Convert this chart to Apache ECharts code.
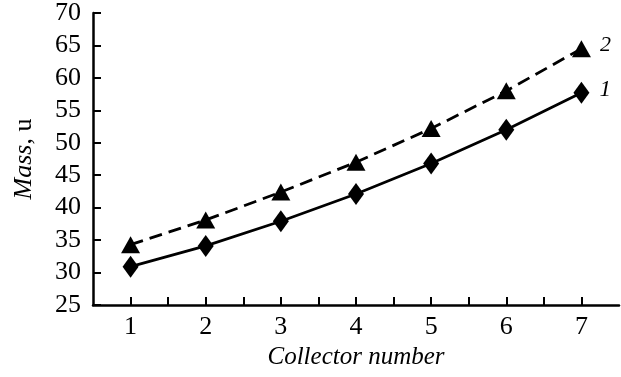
<!DOCTYPE html>
<html>
<head>
<meta charset="utf-8">
<script src="https://cdn.jsdelivr.net/npm/echarts@6/dist/echarts.min.js"></script>
<style>
  html, body { margin: 0; padding: 0; background: #fff; }
  #chart { width: 621px; height: 377px; }
</style>
</head>
<body>
<div id="chart"></div>
<script>
const collectors = [1, 2, 3, 4, 5, 6, 7];
const mass1 = [30.9, 34.1, 37.9, 42.1, 46.8, 52.0, 57.7];
const mass2 = [34.3, 38.1, 42.4, 47.0, 52.2, 58.0, 64.5];
const yTicks = [25, 30, 35, 40, 45, 50, 55, 60, 65, 70];

const FONT = '"Liberation Serif", "DejaVu Serif", serif';

function pairs(ys) {
    return collectors.map((x, i) => [x, ys[i]]);
}

function endLabel(text) {
    return function(p) {
        return p.dataIndex === collectors.length - 1 ? text : '';
    };
}

const chart = echarts.init(document.getElementById('chart'));
chart.setOption({
    animation: false,
    backgroundColor: '#fff',
    grid: { left: 93, right: 2, top: 13, bottom: 72 },
    xAxis: {
        type: 'value',
        min: 0.5,
        max: 7.5,
        interval: 0.5,
        name: 'Collector number',
        nameLocation: 'middle',
        nameGap: 38,
        nameTextStyle: { fontFamily: FONT, fontStyle: 'italic', fontSize: 25, color: '#000' },
        axisLine: { lineStyle: { color: '#000', width: 2.5 } },
        axisTick: { inside: true, length: 8, lineStyle: { color: '#000', width: 2 } },
        axisLabel: {
            fontFamily: FONT, fontSize: 26, color: '#000', margin: 9,
            showMinLabel: false, showMaxLabel: false,
            formatter: v => Number.isInteger(v) ? String(v) : ''
        },
        splitLine: { show: false }
    },
    yAxis: {
        type: 'value',
        min: yTicks[0],
        max: yTicks[yTicks.length - 1],
        interval: 5,
        name: '{i|Mass}, u',
        nameLocation: 'middle',
        nameGap: 56,
        nameTextStyle: {
            fontFamily: FONT, fontSize: 26, color: '#000',
            rich: { i: { fontFamily: FONT, fontStyle: 'italic', fontSize: 26, color: '#000' } }
        },
        axisLine: { show: true, lineStyle: { color: '#000', width: 2.5 } },
        axisTick: { show: true, inside: true, length: 8, lineStyle: { color: '#000', width: 2 } },
        axisLabel: { fontFamily: FONT, fontSize: 26, color: '#000', margin: 12 },
        splitLine: { show: false }
    },
    series: [
        {
            name: '1',
            type: 'line',
            data: pairs(mass1),
            symbol: 'diamond',
            symbolSize: [16, 22],
            itemStyle: { color: '#000' },
            lineStyle: { color: '#000', width: 2.8, type: 'solid' },
            label: {
                show: true, position: 'right', distance: 10, offset: [0, -3],
                formatter: endLabel('1'),
                fontFamily: FONT, fontStyle: 'italic', fontSize: 23, color: '#000'
            }
        },
        {
            name: '2',
            type: 'line',
            data: pairs(mass2),
            symbol: 'triangle',
            symbolSize: [19, 17],
            itemStyle: { color: '#000' },
            lineStyle: { color: '#000', width: 2.8, type: [13, 7] },
            label: {
                show: true, position: 'right', distance: 9, offset: [0, -3],
                formatter: endLabel('2'),
                fontFamily: FONT, fontStyle: 'italic', fontSize: 22, color: '#000'
            }
        }
    ]
});
</script>
</body>
</html>
